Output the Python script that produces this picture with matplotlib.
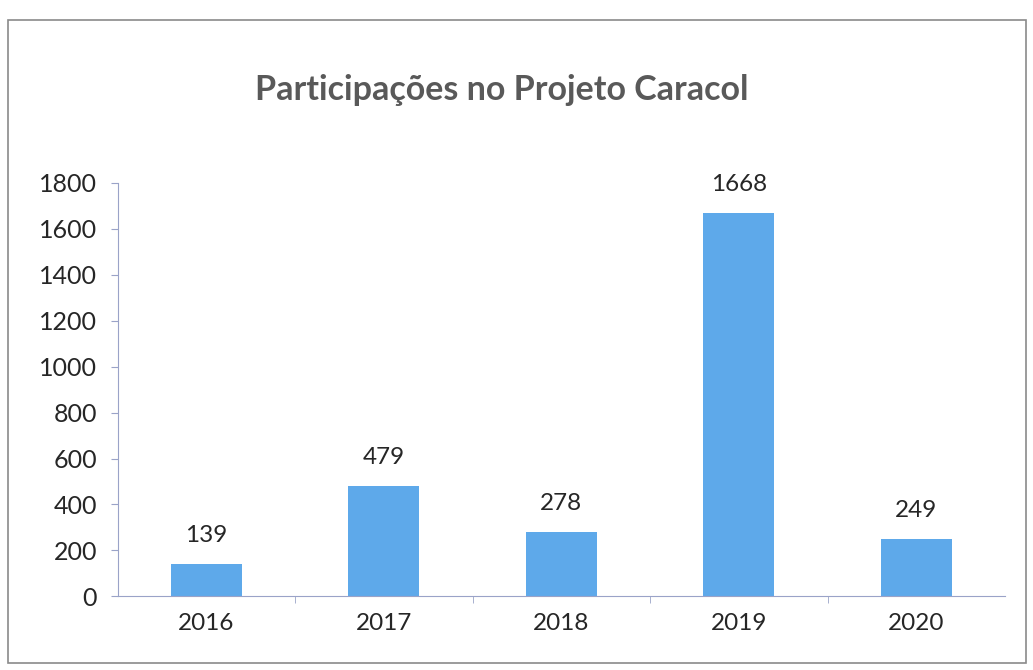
import matplotlib
matplotlib.use("Agg")
import matplotlib.pyplot as plt
from matplotlib.patches import Rectangle

years = ["2016", "2017", "2018", "2019", "2020"]
participacoes = [139, 479, 278, 1668, 249]
y_ticks = [0, 200, 400, 600, 800, 1000, 1200, 1400, 1600, 1800]

plt.rcParams['font.family'] = ['Lato', 'DejaVu Sans']

fig = plt.figure(figsize=(10.33, 6.7), dpi=100)
fig.patch.set_facecolor("white")
fig.patches.append(Rectangle((0.008, 0.01), 0.985, 0.96, transform=fig.transFigure,
                             fill=False, edgecolor="#8a8a8a", linewidth=1.2))

ax = fig.add_axes([0.114, 0.110, 0.859, 0.617])
x = range(len(years))
bars = ax.bar(x, participacoes, width=0.4, color="#5ea9ea", zorder=2)
for xi, v in zip(x, participacoes):
    ax.text(xi, v + 80, str(v), ha="center", va="bottom", fontsize=17.5, color="#262626")

ax.set_xlim(-0.5, len(years) - 0.5)
ax.set_ylim(0, 1800)
ax.set_yticks(y_ticks)
ax.set_yticklabels([str(t) for t in y_ticks], fontsize=18, color="#262626")
ax.set_xticks(list(x))
ax.set_xticklabels(years, fontsize=17.5, color="#262626")
ax.set_xticks([i + 0.5 for i in range(len(years) - 1)], minor=True)
ax.tick_params(axis="x", which="major", length=0, pad=12)
ax.tick_params(axis="x", which="minor", length=5, color="#9aa3c8")
ax.tick_params(axis="y", length=5, color="#9aa3c8", pad=10)
for s in ["top", "right"]:
    ax.spines[s].set_visible(False)
ax.spines["left"].set_color("#9aa3c8")
ax.spines["bottom"].set_color("#9aa3c8")

fig.text(0.486, 0.866, "Participações no Projeto Caracol", ha="center", va="center",
         fontsize=24.5, fontweight="bold", color="#595959")

fig.savefig("out.png", dpi=100)
